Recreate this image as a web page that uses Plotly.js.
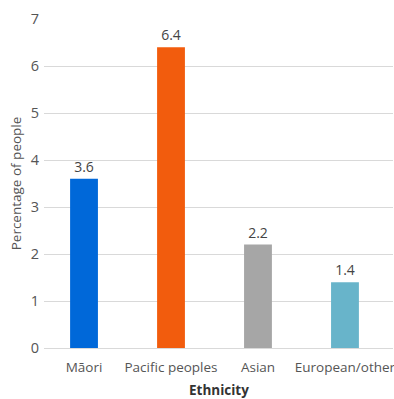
<!DOCTYPE html>
<html>
<head>
<meta charset="utf-8">
<script src="https://cdn.plot.ly/plotly-3.0.1.min.js"></script>
<style>html,body{margin:0;padding:0;background:#fff;}#chart{width:394px;height:399px;}</style>
</head>
<body>
<div id="chart"></div>
<script>
const categories = ["Māori", "Pacific peoples", "Asian", "European/other"];
const values = [3.6, 6.4, 2.2, 1.4];
const labels = ["3.6", "6.4", "2.2", "1.4"];
const barColors = ["#0068d9", "#f25c0d", "#a6a6a6", "#68b4ca"];
const yTicks = [0, 1, 2, 3, 4, 5, 6, 7];
const xTitle = "Ethnicity";
const yTitle = "Percentage of people";

const trace = {
  type: "bar",
  x: [0, 1, 2, 3],
  y: values,
  marker: {color: barColors},
  width: 0.32,
  text: labels,
  textposition: "outside",
  cliponaxis: false,
  textfont: {family: "Open Sans, sans-serif", size: 14, color: "#444"},
  hoverinfo: "none"
};

const layout = {
  width: 394, height: 399,
  margin: {l: 44, r: 1, t: 19, b: 51},
  paper_bgcolor: "#fff", plot_bgcolor: "#fff",
  font: {family: "Open Sans, sans-serif", color: "#555"},
  showlegend: false,
  xaxis: {
    range: [-0.46, 3.552],
    tickvals: [0, 1, 2, 3],
    ticktext: categories,
    showgrid: false, zeroline: false, showline: false, ticks: "",
    ticklabelstandoff: 9,
    ticklabeloverflow: "allow",
    tickfont: {size: 13.5, color: "#555"},
    automargin: false,
    fixedrange: true
  },
  yaxis: {
    range: [0, 7],
    tickvals: yTicks,
    showgrid: true, gridcolor: "#d9d9d9", gridwidth: 1,
    zeroline: true, zerolinecolor: "#d9d9d9", zerolinewidth: 1,
    showline: false, ticks: "",
    ticklabelstandoff: 4,
    tickfont: {size: 14.5, color: "#555"},
    title: {text: yTitle, font: {size: 13.5, color: "#555"}, standoff: 5},
    automargin: false,
    fixedrange: true
  },
  annotations: [{
    text: "<b>" + xTitle + "</b>",
    xref: "paper", yref: "paper",
    x: 0.5, y: -0.128,
    xanchor: "center", yanchor: "middle",
    showarrow: false,
    font: {family: "Open Sans, sans-serif", size: 13.5, color: "#333"}
  }]
};

Plotly.newPlot("chart", [trace], layout, {displayModeBar: false, staticPlot: true});
</script>
</body>
</html>
